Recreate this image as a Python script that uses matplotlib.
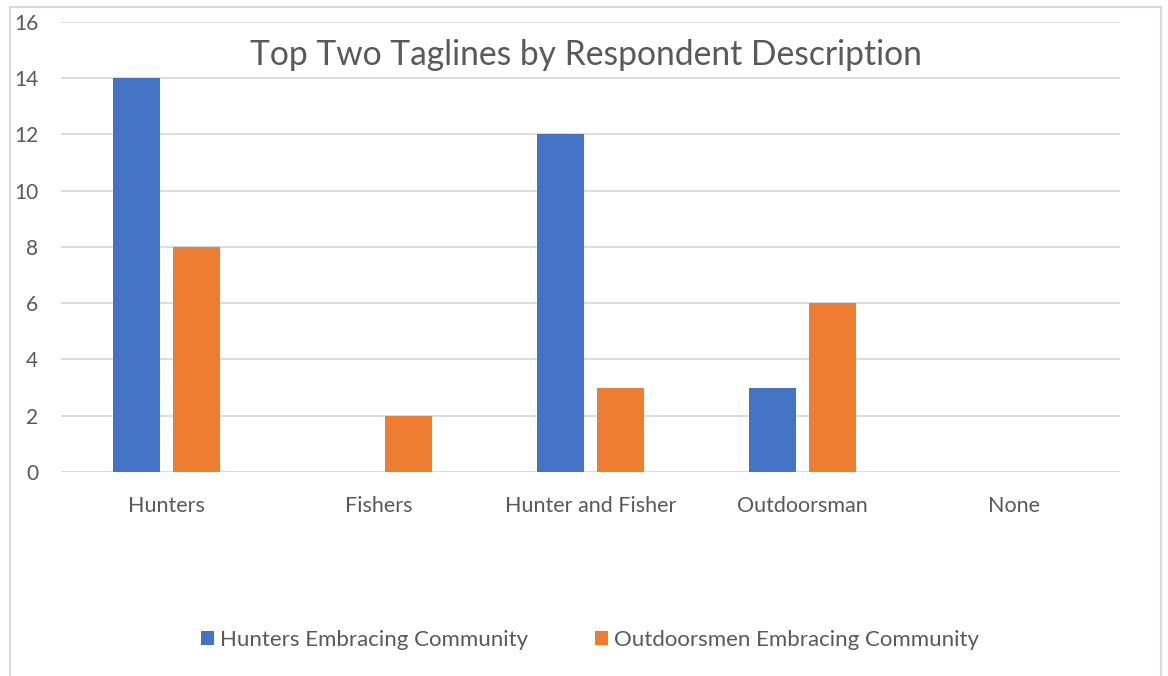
import matplotlib.pyplot as plt
import numpy as np
from matplotlib.patches import Rectangle

plt.rcParams['font.family'] = ['Lato', 'DejaVu Sans']

categories = ['Hunters', 'Fishers', 'Hunter and Fisher', 'Outdoorsman', 'None']
hunters_embracing = [14, 0, 12, 3, 0]
outdoorsmen_embracing = [8, 2, 3, 6, 0]
series_names = ['Hunters Embracing Community', 'Outdoorsmen Embracing Community']

blue = '#4472C4'
orange = '#ED7D31'
text_gray = '#595959'
grid_gray = '#D9D9D9'

fig = plt.figure(figsize=(11.68, 6.76), dpi=100)
ax = fig.add_axes([0.0522, 0.3018, 0.9067, 0.6657])

x = np.arange(len(categories))
w = 0.222
ax.bar(x - 0.142, hunters_embracing, w, color=blue, label=series_names[0], zorder=3)
ax.bar(x + 0.142, outdoorsmen_embracing, w, color=orange, label=series_names[1], zorder=3)

ax.set_xlim(-0.5, len(categories) - 0.5)
ax.set_ylim(0, 16)
ax.set_yticks(range(0, 17, 2))
ax.grid(axis='y', color=grid_gray, linewidth=1.3, zorder=0)
for s in ax.spines.values():
    s.set_visible(False)
ax.tick_params(axis='both', length=0, labelsize=15.5, labelcolor=text_gray)
ax.tick_params(axis='y', pad=16.5, labelsize=15)
ax.tick_params(axis='x', pad=17)
ax.set_xticks(x)
ax.set_xticklabels(categories)

fig.text(0.502, 0.919, 'Top Two Taglines by Respondent Description',
         ha='center', va='center', fontsize=24.2, color=text_gray)

fig.legend(loc='center', bbox_to_anchor=(0.505, 0.053), ncol=2, frameon=False,
           fontsize=16, labelcolor=text_gray, handlelength=0.6, handleheight=0.6,
           handletextpad=0.25, columnspacing=3.0)

# chart area border
fig.patches.append(Rectangle((10 / 1168, -0.05), 1151 / 1168, 1.05 - 7 / 676,
                             transform=fig.transFigure, fill=False,
                             edgecolor=grid_gray, linewidth=1.5))

fig.savefig('out.png', dpi=100)
